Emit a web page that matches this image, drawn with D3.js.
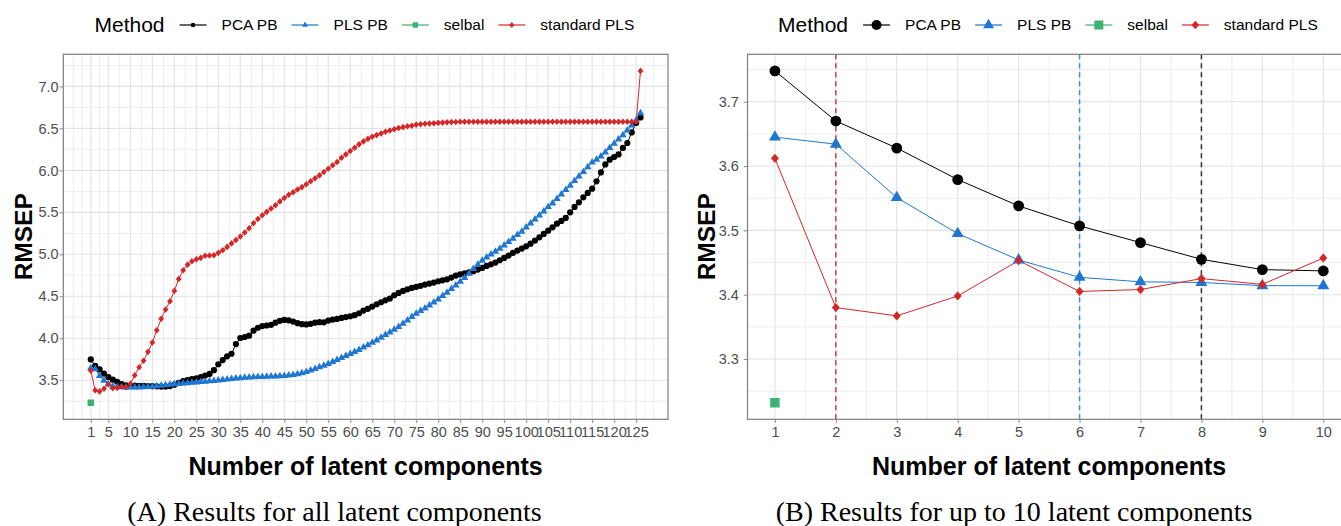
<!DOCTYPE html>
<html><head><meta charset="utf-8">
<script src="https://cdn.jsdelivr.net/npm/d3@7"></script>
<style>body{margin:0;background:#fff}svg{display:block}</style>
</head><body>
<svg id="c" width="1341" height="526"></svg>
<script>
// ---------------- data ----------------
const methods = ["PCA PB", "PLS PB", "selbal", "standard PLS"];
const methodColors = ["#000000", "#1f77d2", "#3cb371", "#d62728"];
const methodShapes = ["circle", "triangle", "square", "diamond"];

const components = d3.range(1, 127);

const pcaPB = [3.748,3.670,3.628,3.579,3.538,3.507,3.481,3.455,3.439,3.437,
 3.436,3.434,3.433,3.431,3.429,3.427,3.424,3.424,3.430,3.447,
 3.470,3.490,3.502,3.512,3.522,3.538,3.555,3.575,3.620,3.690,
 3.740,3.784,3.815,3.930,4.003,4.015,4.030,4.090,4.125,4.145,
 4.152,4.160,4.185,4.208,4.218,4.214,4.199,4.180,4.168,4.165,
 4.172,4.186,4.192,4.190,4.210,4.222,4.230,4.242,4.252,4.262,
 4.275,4.298,4.330,4.350,4.377,4.405,4.429,4.452,4.473,4.512,
 4.540,4.564,4.583,4.600,4.612,4.624,4.639,4.651,4.663,4.679,
 4.690,4.702,4.723,4.746,4.762,4.774,4.786,4.798,4.818,4.838,
 4.862,4.881,4.901,4.929,4.957,4.985,5.017,5.044,5.068,5.095,
 5.127,5.163,5.202,5.243,5.282,5.321,5.365,5.398,5.433,5.500,
 5.564,5.619,5.679,5.731,5.782,5.869,5.976,6.071,6.127,6.159,
 6.190,6.267,6.326,6.452,6.564,6.630];

const plsPB = [3.645,3.634,3.551,3.495,3.454,3.427,3.420,3.419,3.414,3.414,
 3.414,3.415,3.417,3.420,3.425,3.431,3.437,3.443,3.448,3.453,
 3.458,3.463,3.467,3.471,3.476,3.480,3.484,3.489,3.494,3.499,
 3.505,3.511,3.517,3.522,3.526,3.530,3.533,3.536,3.539,3.541,
 3.543,3.545,3.547,3.550,3.553,3.557,3.563,3.572,3.585,3.600,
 3.617,3.635,3.655,3.675,3.695,3.718,3.742,3.767,3.790,3.813,
 3.837,3.862,3.893,3.917,3.949,3.976,4.008,4.040,4.071,4.104,
 4.136,4.175,4.214,4.254,4.294,4.326,4.357,4.393,4.429,4.464,
 4.505,4.544,4.588,4.631,4.675,4.719,4.770,4.826,4.877,4.925,
 4.964,5.000,5.032,5.068,5.107,5.148,5.187,5.231,5.270,5.321,
 5.369,5.417,5.464,5.512,5.564,5.607,5.660,5.714,5.767,5.818,
 5.874,5.929,5.981,6.040,6.095,6.127,6.167,6.214,6.267,6.318,
 6.369,6.421,6.476,6.536,6.595,6.683];

const standardPLS = [3.612,3.380,3.367,3.398,3.453,3.405,3.408,3.425,3.416,3.457,
 3.560,3.655,3.731,3.838,3.949,4.095,4.231,4.342,4.440,4.564,
 4.707,4.810,4.877,4.917,4.940,4.957,4.982,4.985,4.988,5.017,
 5.048,5.088,5.130,5.170,5.212,5.260,5.310,5.370,5.420,5.465,
 5.505,5.545,5.585,5.630,5.670,5.710,5.740,5.772,5.800,5.835,
 5.870,5.905,5.940,5.980,6.020,6.060,6.100,6.150,6.190,6.230,
 6.270,6.310,6.345,6.375,6.400,6.420,6.440,6.460,6.475,6.490,
 6.505,6.515,6.525,6.532,6.545,6.550,6.555,6.559,6.562,6.566,
 6.569,6.572,6.575,6.577,6.579,6.580,6.580,6.580,6.580,6.580,
 6.580,6.580,6.580,6.580,6.580,6.580,6.580,6.580,6.580,6.580,
 6.580,6.580,6.580,6.580,6.580,6.580,6.580,6.580,6.580,6.580,
 6.580,6.580,6.580,6.580,6.580,6.580,6.580,6.580,6.580,6.580,
 6.580,6.580,6.580,6.580,6.580,7.185];

const selbalComponents = [1];
const selbal = [3.232];

// optimal number of components (dashed lines, panel B)
const optimalMethods = ["standard PLS", "PLS PB", "PCA PB"];
const optimalComponents = [2, 6, 8];

const xTicksA = [1,5,10,15,20,25,30,35,40,45,50,55,60,65,70,75,80,85,90,95,100,105,110,115,120,125];
const yTicksA = [3.5,4.0,4.5,5.0,5.5,6.0,6.5,7.0];
const xTicksB = [1,2,3,4,5,6,7,8,9,10];
const yTicksB = [3.3,3.4,3.5,3.6,3.7];

const legendTitle = "Method";
const xTitle = "Number of latent components";
const yTitle = "RMSEP";
const captionA = "(A) Results for all latent components";
const captionB = "(B) Results for up to 10 latent components";

// ---------------- drawing ----------------
const FONT = '"Liberation Sans", Arial, Helvetica, sans-serif';
const svg = d3.select("#c");

function seriesFor(limit) {
  const s = [
    {m: 0, xs: components, ys: pcaPB},
    {m: 1, xs: components, ys: plsPB},
    {m: 2, xs: selbalComponents, ys: selbal},
    {m: 3, xs: components, ys: standardPLS}
  ];
  return s.map(d => ({m: d.m, pts: d.xs.map((x, i) => [x, d.ys[i]]).filter(p => p[0] <= limit)}));
}

function markerPath(shape, sz) {
  if (shape === "circle") return d3.symbol(d3.symbolCircle, Math.PI * sz.r * sz.r)();
  if (shape === "triangle") return d3.symbol(d3.symbolTriangle, sz.tri * sz.tri * Math.sqrt(3) / 4)();
  if (shape === "square") return d3.symbol(d3.symbolSquare, sz.sq * sz.sq)();
  return `M0,${-sz.dh}L${sz.dw},0L0,${sz.dh}L${-sz.dw},0Z`;
}

function minorBreaks(b, dom) {
  const bd = b[1] - b[0];
  let e = b.slice();
  if (dom[0] < b[0]) e.unshift(b[0] - bd);
  if (dom[1] > b[b.length - 1]) e.push(b[b.length - 1] + bd);
  const out = [];
  for (let i = 0; i < e.length; i++) {
    out.push(e[i]);
    if (i < e.length - 1) out.push((e[i] + e[i + 1]) / 2);
  }
  return out.filter(v => v >= dom[0] && v <= dom[1] && !b.some(m => Math.abs(m - v) < 1e-9));
}

function expand(lo, hi) { const r = hi - lo; return [lo - 0.05 * r, hi + 0.05 * r]; }

function panel(cfg) {
  const g = svg.append("g");
  const x = d3.scaleLinear().domain(cfg.xDom).range([cfg.left, cfg.right]);
  const y = d3.scaleLinear().domain(cfg.yDom).range([cfg.bottom, cfg.top]);

  const clipId = "clip" + cfg.id;
  svg.append("clipPath").attr("id", clipId).append("rect")
    .attr("x", cfg.left).attr("y", cfg.top)
    .attr("width", cfg.right - cfg.left).attr("height", cfg.bottom - cfg.top);

  // grid
  const grid = g.append("g");
  minorBreaks(cfg.yTicks, cfg.yDom).forEach(v => grid.append("line")
    .attr("x1", cfg.left).attr("x2", cfg.right).attr("y1", y(v)).attr("y2", y(v))
    .attr("stroke", "#ebebeb").attr("stroke-width", 0.9));
  minorBreaks(cfg.xTicks, cfg.xDom).forEach(v => grid.append("line")
    .attr("y1", cfg.top).attr("y2", cfg.bottom).attr("x1", x(v)).attr("x2", x(v))
    .attr("stroke", "#ebebeb").attr("stroke-width", 0.9));
  cfg.yTicks.forEach(v => grid.append("line")
    .attr("x1", cfg.left).attr("x2", cfg.right).attr("y1", y(v)).attr("y2", y(v))
    .attr("stroke", "#e2e2e2").attr("stroke-width", 1.1));
  cfg.xTicks.forEach(v => grid.append("line")
    .attr("y1", cfg.top).attr("y2", cfg.bottom).attr("x1", x(v)).attr("x2", x(v))
    .attr("stroke", "#e2e2e2").attr("stroke-width", 1.1));

  const plot = g.append("g").attr("clip-path", `url(#${clipId})`);

  // dashed optimum lines
  if (cfg.dashed) {
    optimalMethods.forEach((mName, i) => {
      const mi = methods.indexOf(mName);
      const col = mi === 0 ? "#333333" : (mi === 1 ? "#3d8fdc" : "#d03a3a");
      plot.append("line")
        .attr("x1", x(optimalComponents[i])).attr("x2", x(optimalComponents[i]))
        .attr("y1", cfg.top).attr("y2", cfg.bottom)
        .attr("stroke", col).attr("stroke-width", 1.5).attr("stroke-dasharray", "5,4");
    });
  }

  const series = seriesFor(cfg.limit);
  const line = d3.line().x(p => x(p[0])).y(p => y(p[1]));
  series.forEach(s => {
    if (s.pts.length > 1) plot.append("path").attr("d", line(s.pts))
      .attr("fill", "none").attr("stroke", methodColors[s.m]).attr("stroke-width", 1);
  });
  series.forEach(s => {
    const d = markerPath(methodShapes[s.m], cfg.marker);
    plot.append("g").selectAll("path").data(s.pts).join("path")
      .attr("d", d).attr("transform", p => `translate(${x(p[0])},${y(p[1])})`)
      .attr("fill", methodColors[s.m]);
  });

  // border
  g.append("rect").attr("x", cfg.left).attr("y", cfg.top)
    .attr("width", cfg.right - cfg.left).attr("height", cfg.bottom - cfg.top)
    .attr("fill", "none").attr("stroke", "#7d7d7d").attr("stroke-width", 1.2);

  // axes
  const xAxis = d3.axisBottom(x).tickValues(cfg.xTicks).tickSize(3.7).tickPadding(3.5).tickFormat(d3.format("d"));
  const yAxis = d3.axisLeft(y).tickValues(cfg.yTicks).tickSize(3.7).tickPadding(cfg.yPad).tickFormat(d3.format(".1f"));
  const ax = g.append("g").attr("transform", `translate(0,${cfg.bottom})`).call(xAxis);
  const ay = g.append("g").attr("transform", `translate(${cfg.left},0)`).call(yAxis);
  [ax, ay].forEach(a => {
    a.select(".domain").remove();
    a.selectAll("line").attr("stroke", "#8a8a8a").attr("stroke-width", 1);
    a.selectAll("text").attr("fill", "#4d4d4d").style("font-family", FONT).style("font-size", "14.5px");
  });

  // titles
  g.append("text").attr("x", (cfg.left + cfg.right) / 2).attr("y", 466).attr("dy", "0.35em")
    .attr("text-anchor", "middle").style("font-family", FONT).style("font-weight", "bold")
    .style("font-size", "25px").text(xTitle);
  g.append("text").attr("transform", `translate(${cfg.yTitleX},${(cfg.top + cfg.bottom) / 2}) rotate(-90)`)
    .attr("dy", "0.35em").attr("text-anchor", "middle").style("font-family", FONT)
    .style("font-weight", "bold").style("font-size", "24.5px").text(yTitle);

  // caption
  g.append("text").attr("x", cfg.capX).attr("y", 521).attr("text-anchor", "middle")
    .style("font-family", '"Liberation Serif", "Times New Roman", serif').style("font-size", "28px")
    .text(cfg.caption);

  // legend
  const lg = g.append("g").attr("transform", `translate(${cfg.legX},25)`);
  const t = lg.append("text").attr("x", 0).attr("dy", "0.35em").style("font-family", FONT)
    .style("font-size", "21px").text(legendTitle);
  let cx = t.node().getComputedTextLength() + 15;
  methods.forEach((mName, i) => {
    lg.append("line").attr("x1", cx).attr("x2", cx + 27).attr("y1", 0).attr("y2", 0)
      .attr("stroke", methodColors[i]).attr("stroke-width", 1.2);
    lg.append("path").attr("d", markerPath(methodShapes[i], cfg.legMarker))
      .attr("transform", `translate(${cx + 13.5},0)`).attr("fill", methodColors[i]);
    cx += 27 + 15;
    const lt = lg.append("text").attr("x", cx).attr("dy", "0.35em").style("font-family", FONT)
      .style("font-size", "15.5px").text(mName);
    cx += lt.node().getComputedTextLength() + 14;
  });
}

const allA = pcaPB.concat(plsPB, standardPLS, selbal);
panel({
  id: "A", left: 63.3, right: 668, top: 54.3, bottom: 419.3,
  xDom: expand(1, 126), yDom: expand(d3.min(allA), d3.max(allA)),
  xTicks: xTicksA, yTicks: yTicksA, limit: 126, dashed: false, yPad: 1,
  marker: {r: 3.1, tri: 7.5, sq: 6.5, dw: 2.9, dh: 3.3},
  legMarker: {r: 2.3, tri: 6, sq: 5.5, dw: 2.6, dh: 3},
  yTitleX: 23, capX: 334.5, caption: captionA, legX: 94.5
});
const allB = pcaPB.slice(0, 10).concat(plsPB.slice(0, 10), standardPLS.slice(0, 10), selbal);
panel({
  id: "B", left: 747.5, right: 1350.7, top: 54.3, bottom: 419.3,
  xDom: expand(1, 10), yDom: expand(d3.min(allB), d3.max(allB)),
  xTicks: xTicksB, yTicks: yTicksB, limit: 10, dashed: true, yPad: 5,
  marker: {r: 5.4, tri: 12, sq: 9.5, dw: 4, dh: 4.6},
  legMarker: {r: 5, tri: 11, sq: 9, dw: 3.8, dh: 4.3},
  yTitleX: 706, capX: 1014, caption: captionB, legX: 778
});
</script>
</body></html>
